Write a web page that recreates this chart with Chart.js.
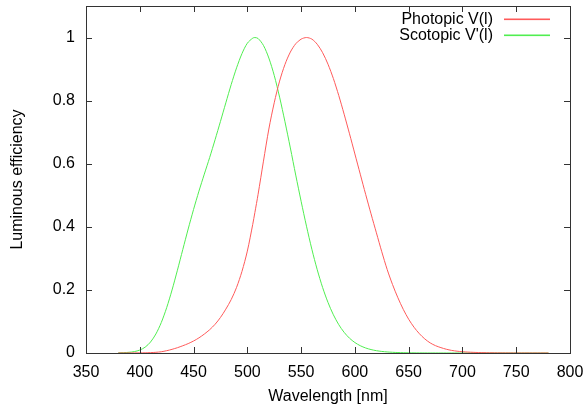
<!DOCTYPE html>
<html>
<head>
<meta charset="utf-8">
<script src="https://cdn.jsdelivr.net/npm/chart.js@4/dist/chart.umd.min.js"></script>
<style>
  html, body { margin: 0; padding: 0; background: #fff; }
  #wrap { width: 586px; height: 408px; }
</style>
</head>
<body>
<div id="wrap"><canvas id="myChart"></canvas></div>
<script>
// 1. DATA (wavelength in nm, efficiency)
const wavelengths = [380, 385, 390, 395, 400, 405, 410, 415, 420, 425, 430, 435, 440, 445, 450, 455,
  460, 465, 470, 475, 480, 485, 490, 495, 500, 505, 507, 510, 515, 520, 525, 530, 535, 540, 545, 550,
  555, 560, 565, 570, 575, 580, 585, 590, 595, 600, 605, 610, 615, 620, 625, 630, 635, 640, 645, 650,
  655, 660, 665, 670, 675, 680, 685, 690, 695, 700, 705, 710, 715, 720, 725, 730, 735, 740, 745, 750,
  755, 760, 765, 770, 775, 780];

const photopic = [0.000039, 0.000064, 0.00012, 0.000217, 0.000396, 0.00064, 0.00121, 0.00218, 0.004, 0.0073,
  0.0116, 0.01684, 0.023, 0.0298, 0.038, 0.048, 0.06, 0.0739, 0.09098, 0.1126, 0.13902, 0.1693, 0.20802,
  0.2586, 0.323, 0.4073, 0.445, 0.503, 0.6082, 0.71, 0.7932, 0.862, 0.91485, 0.954, 0.9803, 0.99495,
  1.0, 0.995, 0.9786, 0.952, 0.9154, 0.87, 0.8163, 0.757, 0.6949, 0.631, 0.5668, 0.503, 0.4412, 0.381,
  0.321, 0.265, 0.217, 0.175, 0.1382, 0.107, 0.0816, 0.061, 0.04458, 0.032, 0.0232, 0.017, 0.01192,
  0.00821, 0.005723, 0.004102, 0.002929, 0.002091, 0.001484, 0.001047, 0.00074, 0.00052, 0.000361,
  0.000249, 0.000172, 0.00012, 0.0000848, 0.00006, 0.0000424, 0.00003, 0.0000212, 0.0000149];

const scotopic = [0.000589, 0.001108, 0.002209, 0.00453, 0.00929, 0.01852, 0.03484, 0.0604, 0.0966, 0.1436,
  0.1998, 0.2625, 0.3281, 0.3931, 0.455, 0.513, 0.567, 0.62, 0.676, 0.734, 0.793, 0.851, 0.904, 0.949,
  0.982, 0.998, 1.0, 0.997, 0.975, 0.935, 0.88, 0.811, 0.733, 0.65, 0.564, 0.481, 0.402, 0.3288, 0.2639,
  0.2076, 0.1602, 0.1212, 0.0899, 0.0655, 0.0469, 0.03315, 0.02312, 0.01593, 0.01088, 0.00737, 0.00497,
  0.003335, 0.002235, 0.001497, 0.001005, 0.000677, 0.000459, 0.000313, 0.000215, 0.000148, 0.000103,
  0.0000715, 0.00005, 0.0000353, 0.000025, 0.0000178, 0.0000127, 0.0000091, 0.0000066, 0.0000048,
  0.0000035, 0.0000025, 0.0000018, 0.0000014, 0.000001, 0.00000076, 0.00000059, 0.00000045, 0.00000035,
  0.00000027, 0.00000021, 0.00000016];

const seriesLabels = ["Photopic V(l)", "Scotopic V'(l)"];
const seriesColors = ['#ff5a5a', '#50ee50'];

const xTicks = [350, 400, 450, 500, 550, 600, 650, 700, 750, 800];
const yTicks = [0, 0.2, 0.4, 0.6, 0.8, 1];

const FONT = "'Liberation Sans', Arial, Helvetica, sans-serif";

// 2. GNUPLOT STYLE FRAME: border, inward ticks on all four sides, legend
const framePlugin = {
    id: 'frame',
    afterDatasetsDraw(chart) {
        const ctx = chart.ctx;
        const a = chart.chartArea;
        const xs = chart.scales.x;
        const ys = chart.scales.y;
        const tick = 6;

        ctx.save();
        ctx.strokeStyle = '#333';
        ctx.lineWidth = 1;
        ctx.beginPath();
        xTicks.forEach(v => {
            const px = Math.round(xs.getPixelForValue(v)) + 0.5;
            ctx.moveTo(px, a.bottom); ctx.lineTo(px, a.bottom - tick);
            ctx.moveTo(px, a.top); ctx.lineTo(px, a.top + tick);
        });
        yTicks.forEach(v => {
            const py = Math.round(ys.getPixelForValue(v)) + 0.5;
            ctx.moveTo(a.left, py); ctx.lineTo(a.left + tick, py);
            ctx.moveTo(a.right, py); ctx.lineTo(a.right - tick, py);
        });
        ctx.stroke();
        ctx.strokeRect(Math.round(a.left) + 0.5, Math.round(a.top) + 0.5,
            Math.round(a.right - a.left), Math.round(a.bottom - a.top));
        ctx.restore();

        // legend: right-aligned text followed by a line sample
        ctx.save();
        ctx.font = '16px ' + FONT;
        ctx.textAlign = 'right';
        ctx.textBaseline = 'middle';
        seriesLabels.forEach((label, i) => {
            const y = 19 + i * 16;
            ctx.fillStyle = '#000';
            ctx.fillText(label, 493, y + 1);
            ctx.fillStyle = seriesColors[i];
            ctx.fillRect(504, y - 0.5, 46, 1.6);
        });
        ctx.restore();
    }
};

// 3. CHART.JS INITIALIZATION
document.addEventListener('DOMContentLoaded', function() {
    const ctx = document.getElementById('myChart').getContext('2d');

    new Chart(ctx, {
        type: 'line',
        data: {
            datasets: [
                {
                    label: seriesLabels[0],
                    data: wavelengths.map((w, i) => ({ x: w, y: photopic[i] })),
                    borderColor: seriesColors[0],
                    borderWidth: 1,
                    pointRadius: 0,
                    tension: 0.3,
                    fill: false
                },
                {
                    label: seriesLabels[1],
                    data: wavelengths.map((w, i) => ({ x: w, y: scotopic[i] })),
                    borderColor: seriesColors[1],
                    borderWidth: 1,
                    pointRadius: 0,
                    tension: 0.3,
                    fill: false
                }
            ]
        },
        options: {
            responsive: true,
            maintainAspectRatio: false,
            animation: false,
            layout: { padding: { left: 0, right: 16, top: 6, bottom: 0 } },
            scales: {
                x: {
                    type: 'linear',
                    min: 350,
                    max: 800,
                    afterFit: (scale) => {
                        scale.height = 55;
                        scale.paddingLeft = 0;
                        scale.paddingRight = 0;
                    },
                    afterBuildTicks: (scale) => { scale.ticks = xTicks.map(v => ({ value: v })); },
                    grid: { display: false, drawTicks: false },
                    border: { display: false },
                    ticks: {
                        padding: 10, color: '#000', font: { family: FONT, size: 16 },
                        callback: (v) => String(v)
                    },
                    title: {
                        display: true,
                        text: 'Wavelength [nm]',
                        color: '#000',
                        font: { family: FONT, size: 16 },
                        padding: { top: 0, bottom: 2 }
                    }
                },
                y: {
                    min: 0,
                    max: 1.1,
                    afterFit: (scale) => {
                        scale.width = 86;
                        scale.paddingTop = 0;
                        scale.paddingBottom = 0;
                    },
                    afterBuildTicks: (scale) => { scale.ticks = yTicks.map(v => ({ value: v })); },
                    grid: { display: false, drawTicks: false },
                    border: { display: false },
                    ticks: {
                        padding: 11, color: '#000', font: { family: FONT, size: 16 },
                        callback: (v) => String(v)
                    },
                    title: {
                        display: true,
                        text: 'Luminous efficiency',
                        color: '#000',
                        font: { family: FONT, size: 16 },
                        padding: { top: 8, bottom: 0 }
                    }
                }
            },
            plugins: {
                legend: { display: false },
                tooltip: { enabled: false }
            }
        },
        plugins: [framePlugin]
    });
});
</script>
</body>
</html>
